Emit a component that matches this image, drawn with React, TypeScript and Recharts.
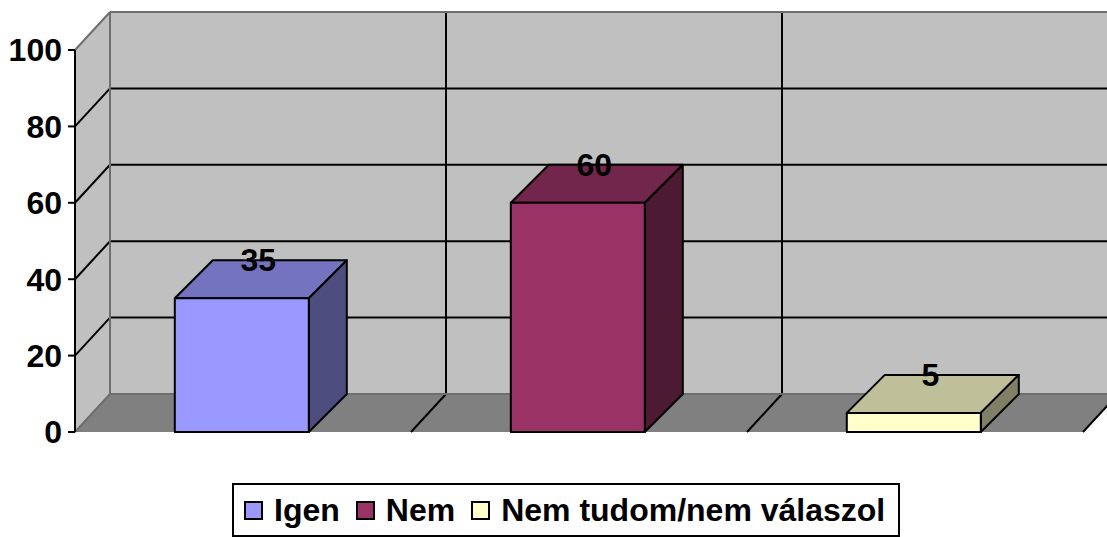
import {
  Bar,
  BarChart,
  LabelList,
  Legend,
  XAxis,
  YAxis,
  usePlotArea,
} from 'recharts';

const categories = ['Igen', 'Nem', 'Nem tudom/nem válaszol'];
const values = [35, 60, 5];
const colors = ['#9999FF', '#993366', '#FFFFCC'];
const topColors = ['#7373BF', '#73264C', '#BFBF99'];
const sideColors = ['#4D4D80', '#4D1A33', '#808066'];
const yTicks = [0, 20, 40, 60, 80, 100];

const data = categories.map((name, i) => ({ name, [name]: values[i] }));

const FONT = "'Liberation Sans', Arial, sans-serif";
const WALL_DX = 35;
const WALL_DY = 38;
const BAR_DEPTH = 38;

const Walls = () => {
  const plot = usePlotArea();
  if (!plot) return null;
  const { x, y, width, height } = plot;
  const bottom = y + height;
  const right = x + width;
  const yOf = (t: number) => bottom - (t / 100) * height;
  const band = width / categories.length;

  return (
    <g>
      <polygon
        points={`${x},${y} ${x + WALL_DX},${y - WALL_DY} ${x + WALL_DX},${bottom - WALL_DY} ${x},${bottom}`}
        fill='#C0C0C0'
      />
      <rect x={x + WALL_DX} y={y - WALL_DY} width={width} height={height} fill='#C0C0C0' />
      <polygon
        points={`${x},${bottom} ${x + WALL_DX},${bottom - WALL_DY} ${right + WALL_DX},${bottom - WALL_DY} ${right},${bottom}`}
        fill='#808080'
      />
      {yTicks.slice(1, -1).map((t) => (
        <g key={t} stroke='#000' strokeWidth={2}>
          <line x1={x} y1={yOf(t)} x2={x + WALL_DX} y2={yOf(t) - WALL_DY} />
          <line x1={x + WALL_DX} y1={yOf(t) - WALL_DY} x2={right + WALL_DX} y2={yOf(t) - WALL_DY} />
        </g>
      ))}
      {[1, 2].map((i) => (
        <g key={i} stroke='#000' strokeWidth={2}>
          <line x1={x + WALL_DX + band * i} y1={y - WALL_DY} x2={x + WALL_DX + band * i} y2={bottom - WALL_DY} />
          <line x1={x + WALL_DX + band * i} y1={bottom - WALL_DY} x2={x + band * i} y2={bottom} />
        </g>
      ))}
      <g stroke='#6E6E6E' strokeWidth={2} fill='none'>
        <line x1={x} y1={y} x2={x + WALL_DX} y2={y - WALL_DY} />
        <line x1={x + WALL_DX} y1={y - WALL_DY} x2={right + WALL_DX} y2={y - WALL_DY} />
        <line x1={x + WALL_DX} y1={y - WALL_DY} x2={x + WALL_DX} y2={bottom - WALL_DY} />
        <line x1={x + WALL_DX} y1={bottom - WALL_DY} x2={right + WALL_DX} y2={bottom - WALL_DY} />
        <line x1={x} y1={bottom} x2={x + WALL_DX} y2={bottom - WALL_DY} />
      </g>
      <line x1={right} y1={bottom} x2={right + WALL_DX} y2={bottom - WALL_DY} stroke='#000' strokeWidth={2} />
    </g>
  );
};

const makeBox = (i: number) => (props: any) => {
  const { x, y, width, height } = props;
  if (!height) return null;
  const d = BAR_DEPTH;
  return (
    <g stroke='#000' strokeWidth={2} strokeLinejoin='round'>
      <polygon
        points={`${x},${y} ${x + d},${y - d} ${x + width + d},${y - d} ${x + width},${y}`}
        fill={topColors[i]}
      />
      <polygon
        points={`${x + width},${y} ${x + width + d},${y - d} ${x + width + d},${y + height - d} ${x + width},${y + height}`}
        fill={sideColors[i]}
      />
      <rect x={x} y={y} width={width} height={height} fill={colors[i]} />
    </g>
  );
};

const renderValue = (props: any) => {
  const { x, y, width, value } = props;
  if (!value) return null;
  return (
    <text
      x={x + width / 2 + 16.5}
      y={y - BAR_DEPTH}
      textAnchor='middle'
      dominantBaseline='central'
      fontFamily={FONT}
      fontWeight='bold'
      fontSize={32}
      fill='#000'
    >
      {value}
    </text>
  );
};

const LegendBox = () => (
  <div
    style={{
      boxSizing: 'border-box',
      width: 668,
      height: 54,
      border: '2px solid #000',
      background: '#fff',
      display: 'flex',
      alignItems: 'center',
      paddingLeft: 10,
      fontFamily: FONT,
      fontWeight: 'bold',
      fontSize: 32,
      color: '#000',
      whiteSpace: 'nowrap',
    }}
  >
    {categories.map((name, i) => (
      <span key={name} style={{ display: 'flex', alignItems: 'center', marginRight: 16 }}>
        <span
          style={{
            boxSizing: 'border-box',
            width: 19,
            height: 19,
            border: '2px solid #000',
            background: colors[i],
            marginRight: 11,
          }}
        />
        {name}
      </span>
    ))}
  </div>
);

export default function App() {
  return (
    <div style={{ position: 'absolute', left: 0, top: 0, width: 1107, height: 537, background: '#fff' }}>
      <BarChart
        width={1107}
        height={537}
        data={data}
        barCategoryGap='30%'
        margin={{ top: 50, right: 24, bottom: 51, left: 0 }}
      >
        <Walls />
        <XAxis
          dataKey='name'
          tick={false}
          tickLine={false}
          height={0}
          padding={{ left: -1, right: 1 }}
          axisLine={{ stroke: '#000', strokeWidth: 2 }}
        />
        <YAxis
          width={75}
          domain={[0, 100]}
          ticks={yTicks}
          interval={0}
          tickSize={7}
          tickMargin={6}
          tick={{ fontFamily: FONT, fontWeight: 'bold', fontSize: 32, fill: '#000' }}
          tickLine={{ stroke: '#000', strokeWidth: 2 }}
          axisLine={{ stroke: '#000', strokeWidth: 2 }}
        />
        {categories.map((name, i) => (
          <Bar
            key={name}
            dataKey={name}
            stackId='a'
            fill={colors[i]}
            shape={makeBox(i)}
            isAnimationActive={false}
          >
            <LabelList dataKey={name} content={renderValue} />
          </Bar>
        ))}
        <Legend
          content={<LegendBox />}
          wrapperStyle={{ position: 'absolute', left: 232, top: 483, width: 668, height: 54, bottom: 'auto' }}
        />
      </BarChart>
    </div>
  );
}
